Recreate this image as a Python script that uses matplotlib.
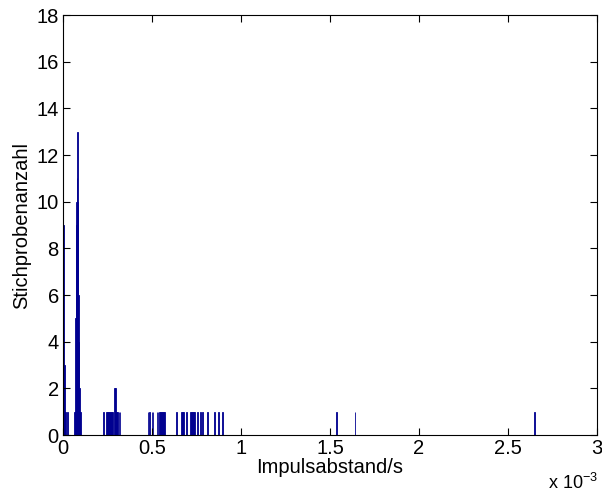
import numpy as np
import matplotlib.pyplot as plt

plt.rcParams['font.family'] = ['Liberation Sans', 'DejaVu Sans']
plt.rcParams['mathtext.fontset'] = 'custom'
plt.rcParams['mathtext.rm'] = 'Liberation Sans'
plt.rcParams['mathtext.it'] = 'Liberation Sans'

# bin centres in units of 1e-3 s, and counts per bin
centres = [0.003, 0.008, 0.014, 0.025,
           0.064, 0.068, 0.071, 0.074, 0.076, 0.078, 0.080, 0.082, 0.085, 0.088, 0.091, 0.095, 0.100,
           0.229, 0.243, 0.250, 0.256, 0.262, 0.268, 0.274, 0.280, 0.289, 0.296, 0.302, 0.308, 0.314, 0.320,
           0.477, 0.487, 0.500, 0.506, 0.528, 0.534, 0.540, 0.546, 0.552, 0.558, 0.564, 0.570,
           0.636, 0.666, 0.672, 0.678, 0.692, 0.716, 0.722, 0.728, 0.734, 0.740, 0.755, 0.772,
           0.785, 0.813, 0.851, 0.875, 0.897,
           1.535, 1.640, 2.650]
counts = [9, 3, 1, 1,
          1, 1, 5, 9, 10, 11, 13, 10, 6, 4, 2, 1, 1,
          1, 1, 1, 1, 1, 1, 1, 1, 2, 2, 1, 1, 1, 1,
          1, 1, 1, 1, 1, 1, 1, 1, 1, 1, 1, 1,
          1, 1, 1, 1, 1, 1, 1, 1, 1, 1, 1, 1,
          1, 1, 1, 1, 1,
          1, 1, 1]

x = np.array(centres) * 1e-3
bin_w = 0.0045e-3

fig = plt.figure(figsize=(6.02, 4.97), dpi=100)
ax = fig.add_axes([0.1047, 0.1247, 0.887, 0.845])

ax.bar(x, counts, width=bin_w, color='#000090', edgecolor='#000090', linewidth=0.6)

ax.set_xlim(0, 3e-3)
ax.set_ylim(0, 18)
ax.set_xticks([0, 0.5e-3, 1e-3, 1.5e-3, 2e-3, 2.5e-3, 3e-3])
ax.set_xticklabels(['0', '0.5', '1', '1.5', '2', '2.5', '3'])
ax.set_yticks(range(0, 19, 2))
ax.tick_params(direction='in', top=True, right=True, labelsize=14.5, length=5, width=0.8, pad=3)
for s in ax.spines.values():
    s.set_linewidth(0.8)

ax.set_xlabel('Impulsabstand/s', fontsize=14.5, labelpad=0)
ax.set_ylabel('Stichprobenanzahl', fontsize=14.5, labelpad=4)
fig.text(0.993, 0.008, r'x 10$^{-3}$', fontsize=13, ha='right', va='bottom')

fig.savefig('out.png', dpi=100, facecolor='white')
